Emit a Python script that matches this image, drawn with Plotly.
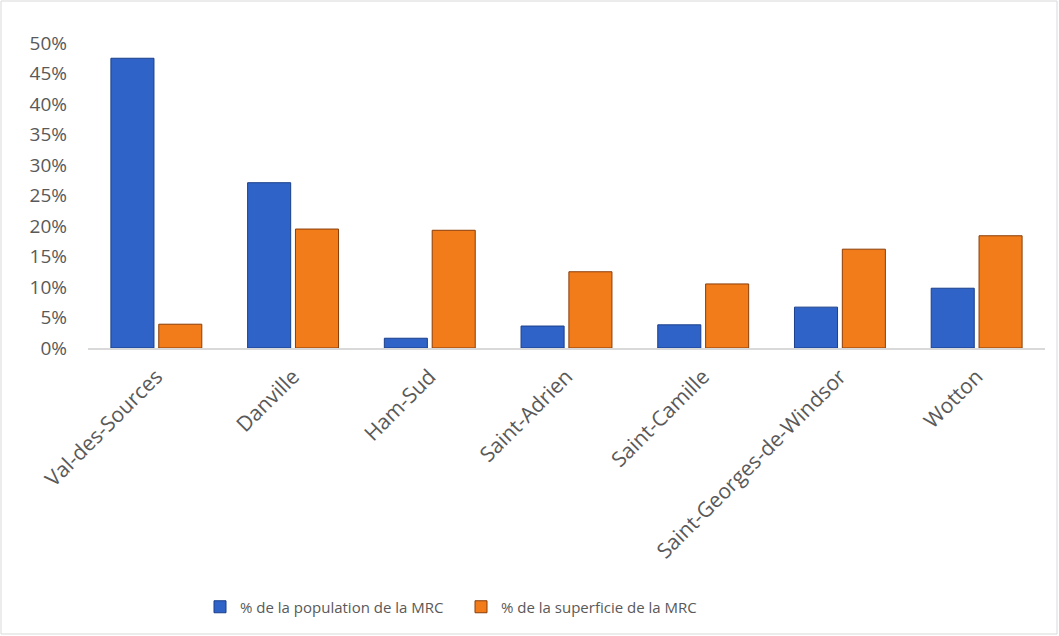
import plotly.graph_objects as go

categories = ["Val-des-Sources", "Danville", "Ham-Sud", "Saint-Adrien",
              "Saint-Camille", "Saint-Georges-de-Windsor", "Wotton"]
population = [0.475, 0.271, 0.016, 0.036, 0.038, 0.067, 0.098]
superficie = [0.039, 0.195, 0.193, 0.125, 0.105, 0.162, 0.184]
series_names = ["% de la population de la MRC", "% de la superficie de la MRC"]
yticks = [0, 0.05, 0.10, 0.15, 0.20, 0.25, 0.30, 0.35, 0.40, 0.45, 0.50]

W, H = 1059, 636
ml, mr, mt, mb = 88, 14, 43, 288
pw, ph = W - ml - mr, H - mt - mb

fig = go.Figure()
fig.add_trace(go.Bar(x=categories, y=population, name=series_names[0],
                     marker=dict(color="#2F63C8", line=dict(color="#1B3F8A", width=1))))
fig.add_trace(go.Bar(x=categories, y=superficie, name=series_names[1],
                     marker=dict(color="#F27B1A", line=dict(color="#8A3E08", width=1))))

font = "'Open Sans', sans-serif"
fig.update_layout(
    width=W, height=H,
    margin=dict(l=ml, r=mr, t=mt, b=mb),
    paper_bgcolor="white", plot_bgcolor="white",
    barmode="group", bargap=0.3, bargroupgap=0.1,
    font=dict(family=font, size=16, color="#595959"),
    showlegend=True,
    legend=dict(orientation="h", x=(200 - ml) / pw, xanchor="left", y=-(607 - 348) / ph,
                yanchor="middle", font=dict(size=15, color="#595959"),
                itemwidth=30, traceorder="normal", entrywidth=216, entrywidthmode="pixels"),
    xaxis=dict(showgrid=False, tickangle=-45, showline=True, linecolor="#D9D9D9",
               linewidth=2, ticks="", ticklabelstandoff=6,
               tickfont=dict(size=21, color="#595959")),
    yaxis=dict(range=[0, 0.5], tickvals=yticks, tickformat=".0%", showgrid=False,
               zeroline=False, showline=False, ticks="", ticklabelstandoff=20,
               tickfont=dict(size=19, color="#595959")),
)
fig.add_shape(type="rect", xref="paper", yref="paper",
              x0=-(ml - 1) / pw, x1=1 + (mr - 2) / pw,
              y0=-(mb - 2) / ph, y1=1 + (mt - 1) / ph,
              line=dict(color="#D9D9D9", width=1), fillcolor="rgba(0,0,0,0)")
fig.write_html("out.html", config={"displayModeBar": False},
               post_script="document.body.style.margin='0';")
